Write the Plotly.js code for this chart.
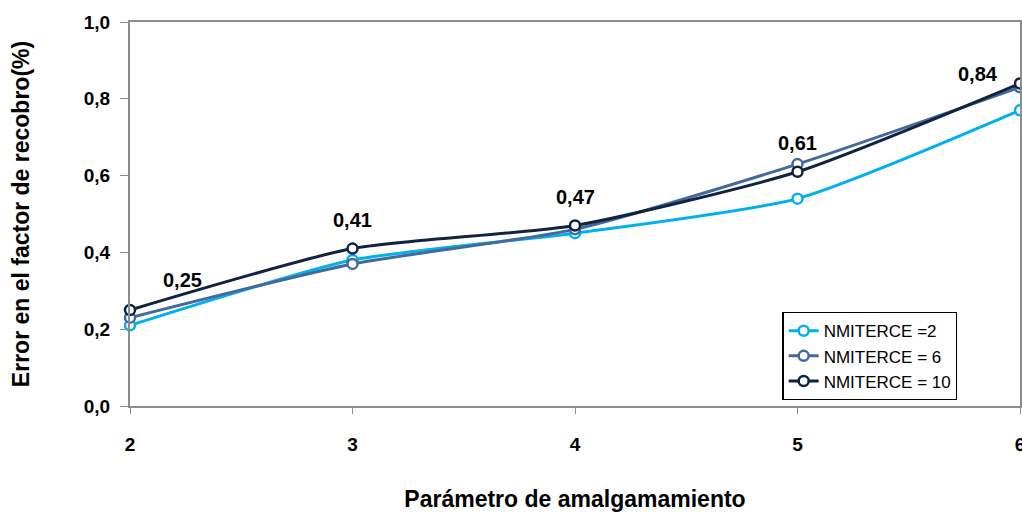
<!DOCTYPE html>
<html>
<head>
<meta charset="utf-8">
<script src="https://cdn.plot.ly/plotly-3.0.1.min.js"></script>
<style>html,body{margin:0;padding:0;background:#fff;}#chart{width:1022px;height:512px;}</style>
</head>
<body>
<div id="chart"></div>
<script>
// Parámetro de amalgamamiento (x) and recovery-factor error for three NMITERCE settings
const params = [2, 3, 4, 5, 6];
const seriesNames = ['NMITERCE =2', 'NMITERCE = 6', 'NMITERCE = 10'];
const errN2 = [0.21, 0.38, 0.45, 0.54, 0.77];
const errN6 = [0.23, 0.37, 0.46, 0.63, 0.83];
const errN10 = [0.25, 0.41, 0.47, 0.61, 0.84];
const colors = ['#00B0F0', '#44699B', '#10233F'];

const font = 'Liberation Sans, Arial, sans-serif';

function trace(name, y, color) {
  return {
    x: params, y: y, name: name, type: 'scatter', mode: 'lines+markers',
    line: {color: color, width: 3, shape: 'spline', smoothing: 0.6},
    marker: {symbol: 'circle', size: 10, color: '#ffffff', line: {color: color, width: 2.5}},
    cliponaxis: false
  };
}

const data = [
  trace(seriesNames[0], errN2, colors[0]),
  trace(seriesNames[1], errN6, colors[1]),
  trace(seriesNames[2], errN10, colors[2])
];

// value labels for the NMITERCE = 10 series
const labelShift = [[52, 30], [0, 29], [0, 29], [0, 29], [-42, 9]];
const annotations = params.map((p, i) => ({
  x: p, y: errN10[i], xref: 'x', yref: 'y',
  text: errN10[i].toFixed(2).replace('.', ','),
  showarrow: false, xshift: labelShift[i][0], yshift: labelShift[i][1],
  font: {family: font, size: 20, color: '#000', weight: 'bold'}
}));

const layout = {
  width: 1022, height: 512,
  margin: {l: 130, r: 2, t: 22, b: 106},
  paper_bgcolor: '#fff', plot_bgcolor: '#fff',
  separators: ',.',
  showlegend: true,
  legend: {
    x: 0.733, y: 0.245, xanchor: 'left', yanchor: 'top',
    bgcolor: '#fff', bordercolor: '#000', borderwidth: 1.3,
    font: {family: font, size: 17, color: '#000'},
    tracegroupgap: 0
  },
  xaxis: {
    range: [2, 6], tickvals: params, ticktext: params.map(String),
    showgrid: false, zeroline: false,
    showline: true, linecolor: '#8c8c8c', linewidth: 2, mirror: true,
    ticks: 'outside', ticklen: 6, tickcolor: '#8c8c8c', tickwidth: 1,
    ticklabelstandoff: 14, ticklabeloverflow: 'allow',
    tickfont: {family: font, size: 19, color: '#000', weight: 'bold'},
    title: {text: 'Parámetro de amalgamamiento', standoff: 37,
      font: {family: font, size: 23, color: '#000', weight: 'bold'}},
    automargin: false
  },
  yaxis: {
    range: [0, 1], dtick: 0.2, tickformat: '.1f',
    showgrid: false, zeroline: false,
    showline: true, linecolor: '#8c8c8c', linewidth: 2, mirror: true,
    ticks: 'outside', ticklen: 8, tickcolor: '#8c8c8c', tickwidth: 1,
    ticklabelstandoff: 6, ticklabeloverflow: 'allow',
    tickfont: {family: font, size: 19, color: '#000', weight: 'bold'},
    title: {text: 'Error en el factor de recobro(%)', standoff: 48,
      font: {family: font, size: 23, color: '#000', weight: 'bold'}},
    automargin: false
  },
  annotations: annotations
};

Plotly.newPlot('chart', data, layout, {displayModeBar: false, staticPlot: true});
</script>
</body>
</html>
